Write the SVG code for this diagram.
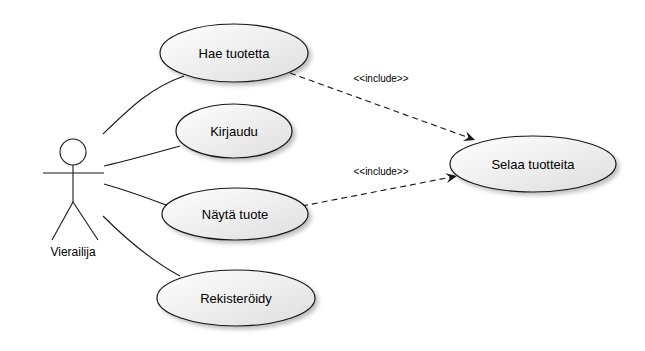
<svg xmlns="http://www.w3.org/2000/svg" width="645" height="351" viewBox="0 0 645 351">
  <defs>
    <linearGradient id="ucFill" x1="0" y1="0" x2="1" y2="1">
      <stop offset="0" stop-color="#ffffff"/>
      <stop offset="1" stop-color="#dedede"/>
    </linearGradient>
    <filter id="shadow" x="-20%" y="-20%" width="150%" height="160%">
      <feGaussianBlur in="SourceAlpha" stdDeviation="2"/>
      <feOffset dx="3" dy="3" result="b"/>
      <feComponentTransfer><feFuncA type="linear" slope="0.25"/></feComponentTransfer>
      <feMerge><feMergeNode/><feMergeNode in="SourceGraphic"/></feMerge>
    </filter>
    <marker id="openArrow" viewBox="0 0 12 12" refX="11" refY="6" markerWidth="12" markerHeight="12" markerUnits="userSpaceOnUse" orient="auto">
      <path d="M0,1 L11,6 L0,11 L4,6 Z" fill="#181818"/>
    </marker>
    <style>
      .uc { fill: url(#ucFill); stroke: #181818; stroke-width: 1.2; filter: url(#shadow); }
      .lbl { font-family: "Liberation Sans", Arial, sans-serif; font-size: 13px; fill: #000; text-anchor: middle; }
      .stereo { font-family: "Liberation Sans", Arial, sans-serif; font-size: 10px; fill: #000; text-anchor: middle; }
      .assoc { fill: none; stroke: #181818; stroke-width: 1.1; }
      .incl { fill: none; stroke: #181818; stroke-width: 1.1; stroke-dasharray: 6 4; marker-end: url(#openArrow); }
      .actor { fill: none; stroke: #181818; stroke-width: 1.1; }
    </style>
  </defs>

  <g id="connectors">
    <path class="assoc" d="M103,134 C130,108 150,88 184,76"/>
    <path class="assoc" d="M104,166 C130,160 155,153 180,146"/>
    <path class="assoc" d="M104,184 C125,190 145,197 166,205"/>
    <path class="assoc" d="M103,216 C125,238 150,260 180,276"/>
    <path class="incl" d="M290,73 L475,140"/>
    <path class="incl" d="M302,206 L457,176"/>
    <text class="stereo" x="381" y="82">&lt;&lt;include&gt;&gt;</text>
    <text class="stereo" x="381" y="175">&lt;&lt;include&gt;&gt;</text>
  </g>

  <g id="actor-vierailija">
    <circle class="actor" cx="73" cy="152" r="13" fill="none"/>
    <line class="actor" x1="73" y1="165" x2="73" y2="202"/>
    <line class="actor" x1="43" y1="173" x2="104" y2="173"/>
    <line class="actor" x1="73" y1="202" x2="52" y2="240"/>
    <line class="actor" x1="73" y1="202" x2="98" y2="240"/>
    <text class="lbl" x="73" y="256" style="font-size:12px">Vierailija</text>
  </g>

  <g id="uc-hae-tuotetta">
    <ellipse class="uc" cx="234" cy="53" rx="74" ry="29"/>
    <text class="lbl" x="234" y="58">Hae tuotetta</text>
  </g>

  <g id="uc-kirjaudu">
    <ellipse class="uc" cx="234" cy="131" rx="58" ry="27"/>
    <text class="lbl" x="234" y="136">Kirjaudu</text>
  </g>

  <g id="uc-nayta-tuote">
    <ellipse class="uc" cx="235" cy="214" rx="73" ry="26"/>
    <text class="lbl" x="235" y="219">Näytä tuote</text>
  </g>

  <g id="uc-rekisteroidy">
    <ellipse class="uc" cx="236" cy="298" rx="79" ry="28"/>
    <text class="lbl" x="236" y="303">Rekisteröidy</text>
  </g>

  <g id="uc-selaa-tuotteita">
    <ellipse class="uc" cx="533" cy="164" rx="83" ry="28"/>
    <text class="lbl" x="533" y="169">Selaa tuotteita</text>
  </g>
</svg>
